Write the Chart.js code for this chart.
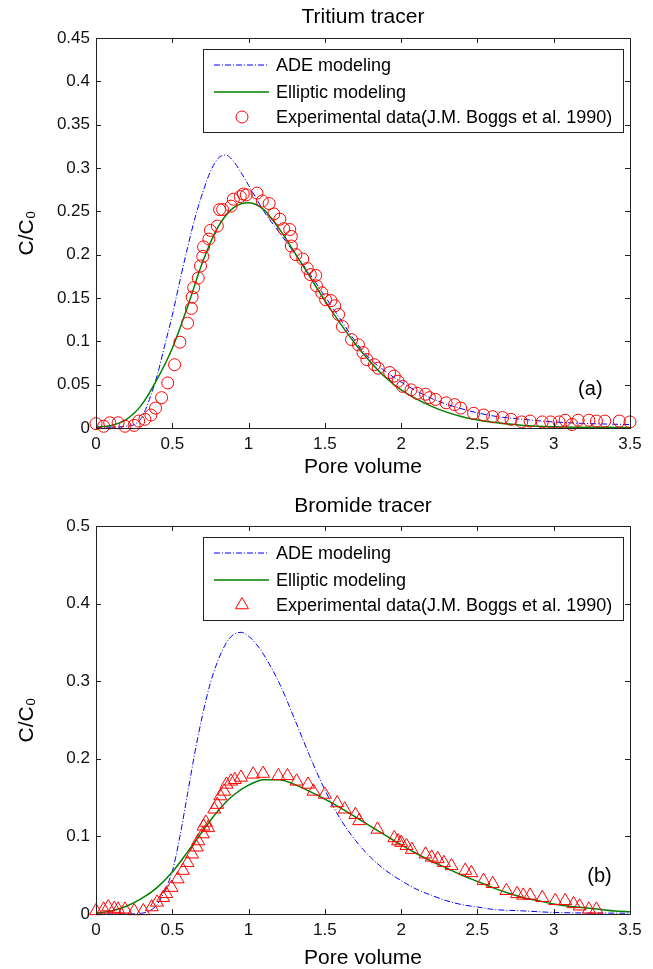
<!DOCTYPE html>
<html>
<head>
<meta charset="utf-8">
<title>Tritium and bromide tracer breakthrough curves</title>
<script src="https://cdn.jsdelivr.net/npm/chart.js@4.4.1/dist/chart.umd.min.js"></script>
<style>
  html, body { margin: 0; padding: 0; background: #fff; }
  canvas { display: block; }
</style>
</head>
<body>
<canvas id="tritiumChart" width="653" height="480"></canvas>
<canvas id="bromideChart" width="653" height="489"></canvas>
<script>
// ---- axes ----
const xTicks = [0, 0.5, 1, 1.5, 2, 2.5, 3, 3.5];
const xTickLabels = ['0', '0.5', '1', '1.5', '2', '2.5', '3', '3.5'];
const triYTicks = [0, 0.05, 0.1, 0.15, 0.2, 0.25, 0.3, 0.35, 0.4, 0.45];
const triYTickLabels = ['0', '0.05', '0.1', '0.15', '0.2', '0.25', '0.3', '0.35', '0.4', '0.45'];
const broYTicks = [0, 0.1, 0.2, 0.3, 0.4, 0.5];
const broYTickLabels = ['0', '0.1', '0.2', '0.3', '0.4', '0.5'];

const seriesLabels = ['ADE modeling', 'Elliptic modeling', 'Experimental data(J.M. Boggs et al. 1990)'];

// ---- tritium (a) ----
const triAdeX = [0, 0.1, 0.2, 0.25, 0.3, 0.35, 0.4, 0.45, 0.5, 0.55, 0.6, 0.65, 0.7, 0.75, 0.8, 0.85, 0.9, 0.95, 1.0, 1.05, 1.1, 1.2, 1.3, 1.4, 1.5, 1.6, 1.7, 1.8, 1.9, 2.0, 2.2, 2.4, 2.6, 2.8, 3.0, 3.25, 3.5];
const triAdeY = [0.001, 0.001, 0.002, 0.004, 0.012, 0.033, 0.06, 0.095, 0.13, 0.17, 0.208, 0.243, 0.272, 0.296, 0.311, 0.315, 0.308, 0.295, 0.28, 0.265, 0.25, 0.226, 0.202, 0.178, 0.152, 0.126, 0.1, 0.079, 0.065, 0.053, 0.034, 0.022, 0.014, 0.01, 0.007, 0.005, 0.004];

const triEllX = [0, 0.1, 0.2, 0.3, 0.4, 0.5, 0.6, 0.7, 0.8, 0.9, 1.0, 1.1, 1.2, 1.3, 1.4, 1.5, 1.6, 1.7, 1.8, 1.9, 2.0, 2.2, 2.4, 2.6, 2.8, 3.0, 3.5];
const triEllY = [0.001, 0.003, 0.01, 0.027, 0.056, 0.092, 0.14, 0.192, 0.232, 0.254, 0.26, 0.252, 0.23, 0.203, 0.175, 0.147, 0.121, 0.097, 0.076, 0.058, 0.044, 0.025, 0.013, 0.0065, 0.003, 0.0015, 0.0005];

const triExpX = [0, 0.05, 0.09, 0.145, 0.19, 0.25, 0.28, 0.32, 0.36, 0.39, 0.43, 0.47, 0.515, 0.55, 0.6, 0.625, 0.63, 0.64, 0.67, 0.685, 0.7, 0.705, 0.74, 0.75, 0.795, 0.81, 0.83, 0.885, 0.9, 0.945, 0.965, 0.985, 1.055, 1.09, 1.135, 1.165, 1.205, 1.23, 1.27, 1.28, 1.28, 1.31, 1.355, 1.385, 1.405, 1.44, 1.445, 1.48, 1.505, 1.54, 1.565, 1.59, 1.615, 1.675, 1.72, 1.75, 1.775, 1.825, 1.85, 1.925, 1.955, 1.98, 2.01, 2.065, 2.105, 2.16, 2.185, 2.225, 2.295, 2.35, 2.39, 2.475, 2.54, 2.6, 2.665, 2.72, 2.79, 2.845, 2.925, 2.98, 3.035, 3.075, 3.12, 3.16, 3.23, 3.28, 3.335, 3.43, 3.5];
const triExpY = [0.005, 0.002, 0.006, 0.006, 0.002, 0.003, 0.008, 0.01, 0.015, 0.023, 0.035, 0.052, 0.073, 0.099, 0.121, 0.138, 0.151, 0.162, 0.173, 0.187, 0.198, 0.209, 0.218, 0.228, 0.233, 0.252, 0.252, 0.256, 0.264, 0.267, 0.27, 0.269, 0.271, 0.262, 0.259, 0.247, 0.241, 0.23, 0.229, 0.221, 0.21, 0.2, 0.195, 0.184, 0.177, 0.176, 0.164, 0.156, 0.148, 0.147, 0.141, 0.131, 0.117, 0.102, 0.096, 0.087, 0.079, 0.073, 0.069, 0.064, 0.06, 0.054, 0.048, 0.044, 0.04, 0.039, 0.035, 0.033, 0.029, 0.027, 0.023, 0.017, 0.015, 0.013, 0.012, 0.01, 0.007, 0.008, 0.007, 0.007, 0.007, 0.009, 0.004, 0.009, 0.009, 0.008, 0.008, 0.008, 0.007];

// ---- bromide (b) ----
const broAdeX = [0, 0.2, 0.3, 0.35, 0.4, 0.45, 0.5, 0.55, 0.6, 0.65, 0.7, 0.75, 0.8, 0.85, 0.9, 0.95, 1.0, 1.05, 1.1, 1.2, 1.3, 1.4, 1.5, 1.6, 1.7, 1.8, 1.9, 2.0, 2.1, 2.2, 2.3, 2.4, 2.5, 2.6, 2.8, 3.0, 3.5];
const broAdeY = [0, 0, 0.001, 0.004, 0.012, 0.03, 0.055, 0.1, 0.155, 0.21, 0.258, 0.298, 0.327, 0.348, 0.36, 0.363, 0.358, 0.348, 0.334, 0.298, 0.252, 0.204, 0.16, 0.123, 0.095, 0.073, 0.056, 0.043, 0.032, 0.024, 0.017, 0.012, 0.009, 0.006, 0.004, 0.002, 0.001];

const broEllX = [0, 0.1, 0.2, 0.3, 0.4, 0.5, 0.6, 0.7, 0.8, 0.9, 1.0, 1.1, 1.2, 1.3, 1.4, 1.5, 1.6, 1.7, 1.8, 1.9, 2.0, 2.1, 2.2, 2.3, 2.4, 2.5, 2.6, 2.7, 2.8, 2.9, 3.0, 3.1, 3.2, 3.3, 3.4, 3.5];
const broEllY = [0.001, 0.004, 0.01, 0.02, 0.034, 0.054, 0.08, 0.107, 0.133, 0.153, 0.166, 0.173, 0.173, 0.167, 0.158, 0.148, 0.137, 0.125, 0.113, 0.101, 0.089, 0.078, 0.068, 0.059, 0.05, 0.042, 0.034, 0.027, 0.021, 0.017, 0.013, 0.01, 0.008, 0.006, 0.004, 0.003];

const broExpX = [0, 0.05, 0.08, 0.12, 0.145, 0.19, 0.25, 0.31, 0.365, 0.4, 0.44, 0.46, 0.495, 0.535, 0.57, 0.6, 0.63, 0.66, 0.67, 0.7, 0.705, 0.72, 0.735, 0.775, 0.795, 0.815, 0.84, 0.855, 0.885, 0.91, 0.95, 1.03, 1.095, 1.195, 1.255, 1.315, 1.39, 1.425, 1.5, 1.58, 1.63, 1.7, 1.725, 1.845, 1.955, 1.98, 2.0, 2.035, 2.07, 2.16, 2.2, 2.24, 2.28, 2.33, 2.42, 2.46, 2.54, 2.6, 2.69, 2.76, 2.8, 2.845, 2.925, 3.01, 3.075, 3.13, 3.17, 3.23, 3.28];
const broExpY = [0.004, 0.006, 0.009, 0.007, 0.006, 0.006, 0.004, 0.004, 0.009, 0.015, 0.021, 0.026, 0.034, 0.045, 0.056, 0.066, 0.077, 0.086, 0.094, 0.103, 0.113, 0.118, 0.111, 0.135, 0.141, 0.152, 0.158, 0.167, 0.171, 0.173, 0.176, 0.18, 0.181, 0.178, 0.178, 0.171, 0.167, 0.158, 0.154, 0.143, 0.135, 0.128, 0.12, 0.109, 0.098, 0.094, 0.092, 0.088, 0.083, 0.077, 0.073, 0.071, 0.066, 0.062, 0.056, 0.053, 0.043, 0.039, 0.03, 0.026, 0.024, 0.024, 0.021, 0.017, 0.017, 0.013, 0.01, 0.006, 0.006];

// panel tags, placed in data units
const triTag = { text: '(a)', x: 3.24, y: 0.044 };
const broTag = { text: '(b)', x: 3.3, y: 0.048 };

const FONT = "'Liberation Sans', Arial, Helvetica, sans-serif";

function pts(xs, ys) {
  return xs.map((x, i) => ({ x: x, y: ys[i] }));
}

// unfilled marker for the legend sample (same shape rules as chart.js)
function markerPath(ctx, style, r, x, y) {
  ctx.beginPath();
  if (style === 'triangle') {
    ctx.moveTo(x, y - r);
    ctx.lineTo(x + Math.sin(Math.PI * 2 / 3) * r, y + r / 2);
    ctx.lineTo(x - Math.sin(Math.PI * 2 / 3) * r, y + r / 2);
    ctx.closePath();
  } else {
    ctx.arc(x, y, r, 0, Math.PI * 2);
  }
}

// MATLAB-like box: title, frame, inward ticks on all sides, legend inside, panel tag
const matlabBox = {
  id: 'matlabBox',
  afterDraw(chart, args, opts) {
    const ctx = chart.ctx;
    const a = chart.chartArea;
    const xs = chart.scales.x, ys = chart.scales.y;
    ctx.save();

    // title centred over the axes
    ctx.font = '21px ' + FONT;
    ctx.fillStyle = '#000';
    ctx.textAlign = 'center';
    ctx.textBaseline = 'middle';
    ctx.fillText(opts.title, (a.left + a.right) / 2, opts.titleY);

    ctx.strokeStyle = '#222';
    ctx.lineWidth = 1;
    ctx.strokeRect(Math.round(a.left) + 0.5, Math.round(a.top) + 0.5,
                   Math.round(a.right - a.left), Math.round(a.bottom - a.top));
    const tl = 5;
    ctx.beginPath();
    xs.ticks.forEach(t => {
      const px = Math.round(xs.getPixelForValue(t.value)) + 0.5;
      ctx.moveTo(px, a.bottom); ctx.lineTo(px, a.bottom - tl);
      ctx.moveTo(px, a.top); ctx.lineTo(px, a.top + tl);
    });
    ys.ticks.forEach(t => {
      const py = Math.round(ys.getPixelForValue(t.value)) + 0.5;
      ctx.moveTo(a.left, py); ctx.lineTo(a.left + tl, py);
      ctx.moveTo(a.right, py); ctx.lineTo(a.right - tl, py);
    });
    ctx.stroke();

    // legend box
    const bx = a.left + 107, by = a.top + 11;
    const bw = a.right - 7 - bx, bh = 83;
    ctx.fillStyle = '#fff';
    ctx.fillRect(bx, by, bw, bh);
    ctx.strokeStyle = '#222';
    ctx.strokeRect(Math.round(bx) + 0.5, Math.round(by) + 0.5, Math.round(bw), bh);
    ctx.font = '18px ' + FONT;
    ctx.textBaseline = 'middle';
    ctx.textAlign = 'left';
    const rowY = [by + 16, by + 43, by + 68];
    const ds = chart.data.datasets;
    [0, 1, 2].forEach((k, r) => {
      const d = ds[k];
      const y = rowY[r];
      ctx.strokeStyle = d.borderColor;
      ctx.lineWidth = d.borderWidth;
      if (d.showLine) {
        ctx.beginPath();
        ctx.setLineDash(d.borderDash || []);
        ctx.moveTo(bx + 11, y); ctx.lineTo(bx + 66, y);
        ctx.stroke();
        ctx.setLineDash([]);
      } else {
        markerPath(ctx, d.pointStyle, d.pointRadius, bx + 39, y);
        ctx.stroke();
      }
      ctx.fillStyle = '#000';
      ctx.fillText(d.label, bx + 73, y + 1);
    });

    // panel tag
    const tag = opts.tag;
    ctx.font = '20px ' + FONT;
    ctx.textAlign = 'center';
    ctx.fillStyle = '#000';
    ctx.fillText(tag.text, xs.getPixelForValue(tag.x), ys.getPixelForValue(tag.y));
    ctx.restore();
  }
};

function makeChart(id, cfg) {
  const tickFont = { family: FONT, size: 17 };
  const titleFont = { family: FONT, size: 21, lineHeight: 1.0 };
  return new Chart(document.getElementById(id), {
    type: 'scatter',
    data: {
      datasets: [
        {
          label: seriesLabels[0], data: pts(cfg.adeX, cfg.adeY), showLine: true,
          borderColor: '#0000ff', borderWidth: 1, borderDash: [6, 2, 1, 2],
          pointRadius: 0, tension: 0.4, cubicInterpolationMode: 'monotone', order: 2
        },
        {
          label: seriesLabels[1], data: pts(cfg.ellX, cfg.ellY), showLine: true,
          borderColor: '#008000', borderWidth: 1.5,
          pointRadius: 0, tension: 0.4, cubicInterpolationMode: 'monotone', order: 1
        },
        {
          label: seriesLabels[2], data: pts(cfg.expX, cfg.expY), showLine: false,
          pointStyle: cfg.marker, pointRadius: cfg.markerSize,
          borderColor: '#ff0000', backgroundColor: 'rgba(0,0,0,0)', borderWidth: 1,
          clip: false, order: 0
        }
      ]
    },
    options: {
      responsive: false,
      animation: false,
      events: [],
      layout: { padding: { left: 0, right: 23, top: cfg.areaTop, bottom: 0 } },
      plugins: {
        legend: { display: false },
        tooltip: { enabled: false },
        title: { display: false },
        matlabBox: { tag: cfg.tag, title: cfg.title, titleY: cfg.titleY }
      },
      scales: {
        x: {
          type: 'linear', min: 0, max: 3.5,
          afterBuildTicks: s => { s.ticks = xTicks.map(v => ({ value: v })); },
          afterFit: s => { s.height = cfg.xAxisH; },
          ticks: {
            callback: (v, i) => xTickLabels[i], color: '#111', font: tickFont,
            padding: 6, maxRotation: 0, autoSkip: false
          },
          grid: { display: false, drawTicks: false, tickLength: 0 },
          border: { display: false },
          title: { display: true, text: 'Pore volume', color: '#000', font: titleFont, padding: { top: 0, bottom: cfg.xTitlePad } }
        },
        y: {
          type: 'linear', min: 0, max: cfg.yMax,
          afterBuildTicks: s => { s.ticks = cfg.yTicks.map(v => ({ value: v })); },
          afterFit: s => { s.width = 96; },
          ticks: {
            callback: (v, i) => cfg.yTickLabels[i], color: '#111', font: tickFont,
            padding: 6, autoSkip: false
          },
          grid: { display: false, drawTicks: false, tickLength: 0 },
          border: { display: false },
          title: { display: true, text: 'C/C₀', color: '#000', font: titleFont, padding: { top: 17, bottom: 0 } }
        }
      }
    },
    plugins: [matlabBox]
  });
}

makeChart('tritiumChart', {
  title: 'Tritium tracer', titleY: 17, areaTop: 38,
  xAxisH: 52, xTitlePad: 2.5,
  yMax: 0.45, yTicks: triYTicks, yTickLabels: triYTickLabels,
  adeX: triAdeX, adeY: triAdeY, ellX: triEllX, ellY: triEllY,
  expX: triExpX, expY: triExpY, marker: 'circle', markerSize: 6,
  tag: triTag
});

makeChart('bromideChart', {
  title: 'Bromide tracer', titleY: 26, areaTop: 46,
  xAxisH: 55, xTitlePad: 0.5,
  yMax: 0.5, yTicks: broYTicks, yTickLabels: broYTickLabels,
  adeX: broAdeX, adeY: broAdeY, ellX: broEllX, ellY: broEllY,
  expX: broExpX, expY: broExpY, marker: 'triangle', markerSize: 7.5,
  tag: broTag
});
</script>
</body>
</html>
